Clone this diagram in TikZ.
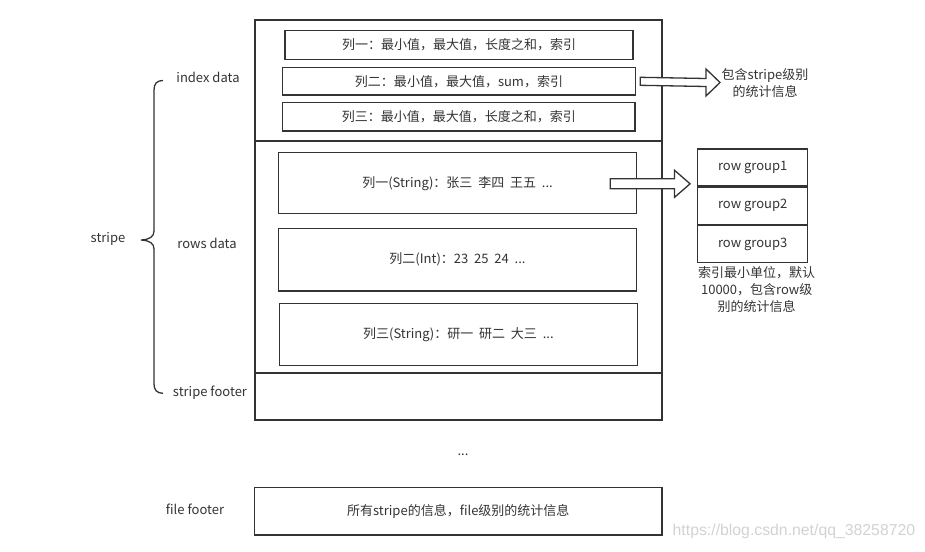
\documentclass[tikz,border=0pt]{standalone}
\usepackage{fontspec}
\setmainfont{Noto Sans CJK SC}
\newfontfamily\wmfont{Liberation Sans}
\usetikzlibrary{calc}
\definecolor{lc}{HTML}{333333}
\definecolor{tc}{HTML}{333333}
\definecolor{wm}{HTML}{D2D2D2}
\begin{document}
\begin{tikzpicture}[x=1pt,y=-1pt,
  every node/.style={font=\fontsize{13}{17}\selectfont, text=tc, inner sep=0pt},
  sect/.style={draw=lc, line width=1.3pt, minimum width=407pt},
  cbox/.style={draw=lc, line width=1.3pt},
  rgbox/.style={draw=lc, line width=1.3pt, minimum width=110pt, minimum height=37pt},
  barrow/.style={draw=lc, line width=1.3pt, fill=white, line join=miter},
  brace/.style={draw=lc, line width=1.3pt},
  lbl/.style={align=center}]
\useasboundingbox (0,0) rectangle (925,551);
% stripe sections
\node[sect, minimum height=121pt] (idx) at (458.5,80.5) {};
\node[sect, minimum height=232pt] (rows) at (458.5,257) {};
\node[sect, minimum height=47pt] (sfoot) at (458.5,396.5) {};
% index boxes
\node[cbox, minimum width=348pt, minimum height=29pt] (i1) at (459,45) {\raisebox{-1pt}{列一：最小值，最大值，长度之和，索引}};
\node[cbox, minimum width=353pt, minimum height=27.5pt] (i2) at (459,81.3) {\raisebox{-1pt}{列二：最小值，最大值，sum，索引}};
\node[cbox, minimum width=352.5pt, minimum height=28.5pt] (i3) at (458.8,116.8) {\raisebox{-1pt}{列三：最小值，最大值，长度之和，索引}};
% rows boxes
\node[cbox, minimum width=358pt, minimum height=61pt] (r1) at (457.5,183.3) {\raisebox{-1.5pt}{列一(String)：张三\ \ 李四\ \ 王五\ \ ...}};
\node[cbox, minimum width=358pt, minimum height=62.5pt] (r2) at (457.5,259.8) {\raisebox{-1pt}{列二(Int)：23\ \ 25\ \ 24\ \ ...}};
\node[cbox, minimum width=358pt, minimum height=62pt] (r3) at (458.4,334.4) {\raisebox{-1pt}{列三(String)：研一\ \ 研二\ \ 大三\ \ ...}};
% labels left
\node (lidx) at (208,77) {index data};
\node (lrows) at (207,243) {rows data};
\node (lsf) at (210,393) {stripe footer};
\node (lstripe) at (108,239) {stripe};
\node (lff) at (195,509) {file footer};
% brace
\draw[brace] (163,80.5) .. controls (157,80.5) and (154,83.5) .. (154,90)
  -- (154,231) .. controls (154,236.5) and (150,239.5) .. (141,240)
  .. controls (150,240.5) and (154,243.5) .. (154,249)
  -- (154,384) .. controls (154,390) and (157,393.3) .. (163,393.3);
% dots and file footer
\node (dots) at (463,455) {...};
\node[cbox, minimum width=407.5pt, minimum height=47.3pt] (ff) at (458.3,511.4) {所有stripe的信息，file级别的统计信息};
% right side
\node[lbl] (info) at (765,83.5) {包含stripe级别\\的统计信息};
\node[rgbox] (rg1) at (752.7,167.5) {row group1};
\node[rgbox, anchor=north] (rg2) at (rg1.south) {row group2};
\node[rgbox, anchor=north] (rg3) at (rg2.south) {row group3};
\node[lbl] (cap) at (756.7,290) {索引最小单位，默认\\10000，包含row级\\别的统计信息};
% block arrows
\coordinate (a1s) at ($(i2.east)+(4,0)$);
\coordinate (a1e) at (720,82.5);
\draw[barrow] ($(a1s)+(0,-4)$) -- ($(a1e)+(-14,-4)$) -- ($(a1e)+(-14,-13.5)$) -- (a1e)
  -- ($(a1e)+(-14,13.5)$) -- ($(a1e)+(-14,4)$) -- ($(a1s)+(0,4)$) -- cycle;
\coordinate (a2s) at ($(r1.east)+(-27,0.5)$);
\coordinate (a2e) at ($(rg1.west)+(-7,16.3)$);
\draw[barrow] ($(a2s)+(0,-5)$) -- ($(a2e)+(-15.5,-5)$) -- ($(a2e)+(-15.5,-13.5)$) -- (a2e)
  -- ($(a2e)+(-15.5,13.5)$) -- ($(a2e)+(-15.5,5)$) -- ($(a2s)+(0,5)$) -- cycle;
% watermark
\node[text=wm, font=\wmfont\fontsize{15.8}{18}\selectfont, anchor=west] (wmk) at (672.5,531) {https://blog.csdn.net/qq\_38258720};
\end{tikzpicture}
\end{document}
